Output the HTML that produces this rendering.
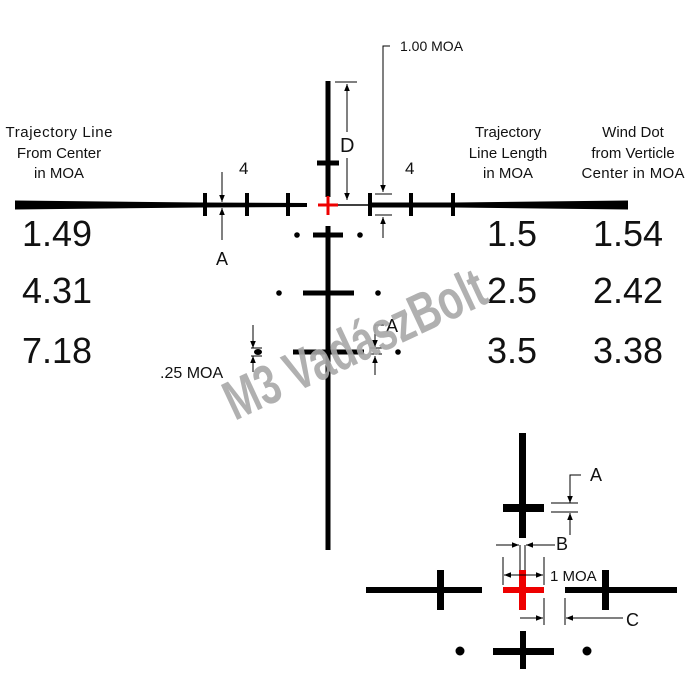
<!DOCTYPE html>
<html><head><meta charset="utf-8"><style>html,body{margin:0;padding:0;background:#fff}svg{display:block}text{font-family:"Liberation Sans",sans-serif;fill:#111}</style></head><body>
<svg width="700" height="700" viewBox="0 0 700 700" xmlns="http://www.w3.org/2000/svg">
<defs><marker id="ar" viewBox="0 0 10 10" refX="10" refY="5" markerWidth="7" markerHeight="7" orient="auto-start-reverse"><path d="M0,1 L10,5 L0,9 z" fill="#000"/></marker></defs>
<!-- main horizontal -->
<polygon points="15,200.5 200,202.5 307,203 307,207 200,207.5 15,209.5" fill="#000"/>
<polygon points="370,202.5 455,202.5 628,200.5 628,209.5 455,207.5 370,207.5" fill="#000"/>
<line x1="338" y1="205" x2="372" y2="205" stroke="#000" stroke-width="1.5"/>
<g stroke="#000" stroke-width="4">
<line x1="205" y1="193" x2="205" y2="216"/><line x1="247" y1="193" x2="247" y2="216"/><line x1="288" y1="193" x2="288" y2="216"/>
<line x1="370" y1="193" x2="370" y2="216"/><line x1="411" y1="193" x2="411" y2="216"/><line x1="453" y1="193" x2="453" y2="216"/>
</g>
<!-- vertical -->
<line x1="328" y1="81" x2="328" y2="197" stroke="#000" stroke-width="5"/>
<line x1="317" y1="163" x2="339" y2="163" stroke="#000" stroke-width="5"/>
<line x1="328" y1="226" x2="328" y2="550" stroke="#000" stroke-width="5"/>
<line x1="313" y1="235" x2="343" y2="235" stroke="#000" stroke-width="5"/>
<line x1="303" y1="293" x2="354" y2="293" stroke="#000" stroke-width="5"/>
<line x1="293" y1="352" x2="364" y2="352" stroke="#000" stroke-width="5"/>
<g fill="#000"><circle cx="297" cy="235" r="2.8"/><circle cx="360" cy="235" r="2.8"/><circle cx="279" cy="293" r="2.8"/><circle cx="378" cy="293" r="2.8"/><ellipse cx="258" cy="352" rx="4" ry="3"/><circle cx="398" cy="352" r="2.8"/></g>
<!-- red cross -->
<g stroke="#e00" stroke-width="3"><line x1="318" y1="205" x2="338" y2="205"/><line x1="328" y1="196" x2="328" y2="215"/></g>
<!-- dims -->
<g stroke="#000" stroke-width="1" fill="none">
<line x1="335" y1="82" x2="357" y2="82"/>
<line x1="347" y1="132" x2="347" y2="84" marker-end="url(#ar)"/>
<line x1="347" y1="158" x2="347" y2="200" marker-end="url(#ar)"/>
<polyline points="390,46 383,46 383,192"/>
<line x1="383" y1="170" x2="383" y2="192" marker-end="url(#ar)"/>
<line x1="375" y1="194" x2="392" y2="194"/><line x1="375" y1="215" x2="392" y2="215"/>
<line x1="383" y1="238" x2="383" y2="217" marker-end="url(#ar)"/>
<line x1="222" y1="172" x2="222" y2="202" marker-end="url(#ar)"/>
<line x1="222" y1="240" x2="222" y2="208" marker-end="url(#ar)"/>
<line x1="253" y1="325" x2="253" y2="348" marker-end="url(#ar)"/>
<line x1="253" y1="372" x2="253" y2="356" marker-end="url(#ar)"/>
<line x1="251" y1="348" x2="262" y2="348"/><line x1="251" y1="356" x2="262" y2="356"/>
<polyline points="384,325 375,325 375,347"/>
<line x1="375" y1="330" x2="375" y2="347" marker-end="url(#ar)"/>
<line x1="370" y1="348" x2="382" y2="348"/><line x1="370" y1="354" x2="382" y2="354"/>
<line x1="375" y1="375" x2="375" y2="356" marker-end="url(#ar)"/>
</g>
<g font-size="15" text-anchor="middle">
<text x="59" y="137" textLength="107">Trajectory Line</text><text x="59" y="158">From Center</text><text x="59" y="178">in MOA</text>
<text x="508" y="137">Trajectory</text><text x="508" y="158">Line Length</text><text x="508" y="178">in MOA</text>
<text x="633" y="137">Wind Dot</text><text x="633" y="158">from Verticle</text><text x="633" y="178" textLength="103">Center in MOA</text>
</g>
<text x="400" y="51" font-size="14">1.00 MOA</text>
<text x="239" y="174" font-size="17">4</text><text x="405" y="174" font-size="17">4</text>
<text x="340" y="152" font-size="20">D</text>
<text x="216" y="265" font-size="18">A</text>
<text x="386" y="332" font-size="18">A</text>
<text x="160" y="378" font-size="16">.25 MOA</text>
<g font-size="36">
<text x="22" y="246">1.49</text><text x="22" y="303">4.31</text><text x="22" y="363">7.18</text>
<text x="487" y="246">1.5</text><text x="487" y="303">2.5</text><text x="487" y="363">3.5</text>
<text x="593" y="246">1.54</text><text x="593" y="303">2.42</text><text x="593" y="363">3.38</text>
</g>
<g transform="translate(355 345) rotate(-25) scale(0.72 1)"><text x="0" y="18" font-size="56" font-weight="bold" text-anchor="middle" style="fill:#a8a8a8;opacity:.9">M3 VadászBolt</text></g>
<!-- bottom figure -->
<rect x="519" y="433" width="7" height="105" fill="#000"/>
<rect x="503" y="504" width="41" height="8" fill="#000"/>
<rect x="366" y="587" width="116" height="6" fill="#000"/>
<rect x="437" y="570" width="7" height="40" fill="#000"/>
<rect x="565" y="587" width="112" height="6" fill="#000"/>
<rect x="602" y="570" width="7" height="40" fill="#000"/>
<g fill="#e00"><rect x="503" y="587" width="41" height="6"/><rect x="519" y="570" width="7" height="40"/></g>
<rect x="520" y="631" width="6" height="38" fill="#000"/>
<rect x="493" y="648" width="61" height="7" fill="#000"/>
<circle cx="460" cy="651" r="4.5" fill="#000"/><circle cx="587" cy="651" r="4.5" fill="#000"/>
<g stroke="#000" stroke-width="1" fill="none">
<polyline points="581,475 570,475 570,503"/>
<line x1="570" y1="485" x2="570" y2="503" marker-end="url(#ar)"/>
<line x1="551" y1="503" x2="578" y2="503"/><line x1="551" y1="512" x2="578" y2="512"/>
<line x1="570" y1="535" x2="570" y2="513" marker-end="url(#ar)"/>
<line x1="496" y1="545" x2="519" y2="545" marker-end="url(#ar)"/>
<line x1="555" y1="545" x2="526" y2="545" marker-end="url(#ar)"/>
<line x1="520" y1="545" x2="520" y2="570"/><line x1="525" y1="545" x2="525" y2="570"/>
<line x1="503" y1="557" x2="503" y2="585"/><line x1="544" y1="557" x2="544" y2="585"/>
<line x1="522" y1="575" x2="504" y2="575" marker-end="url(#ar)"/>
<line x1="522" y1="575" x2="543" y2="575" marker-end="url(#ar)"/>
<line x1="544" y1="598" x2="544" y2="625"/>
<line x1="520" y1="618" x2="543" y2="618" marker-end="url(#ar)"/>
<line x1="565" y1="598" x2="565" y2="625"/>
<line x1="623" y1="618" x2="566" y2="618" marker-end="url(#ar)"/>
</g>
<text x="590" y="481" font-size="18">A</text>
<text x="556" y="550" font-size="18">B</text>
<text x="550" y="581" font-size="15">1 MOA</text>
<text x="626" y="626" font-size="18">C</text>
</svg>
</body></html>
